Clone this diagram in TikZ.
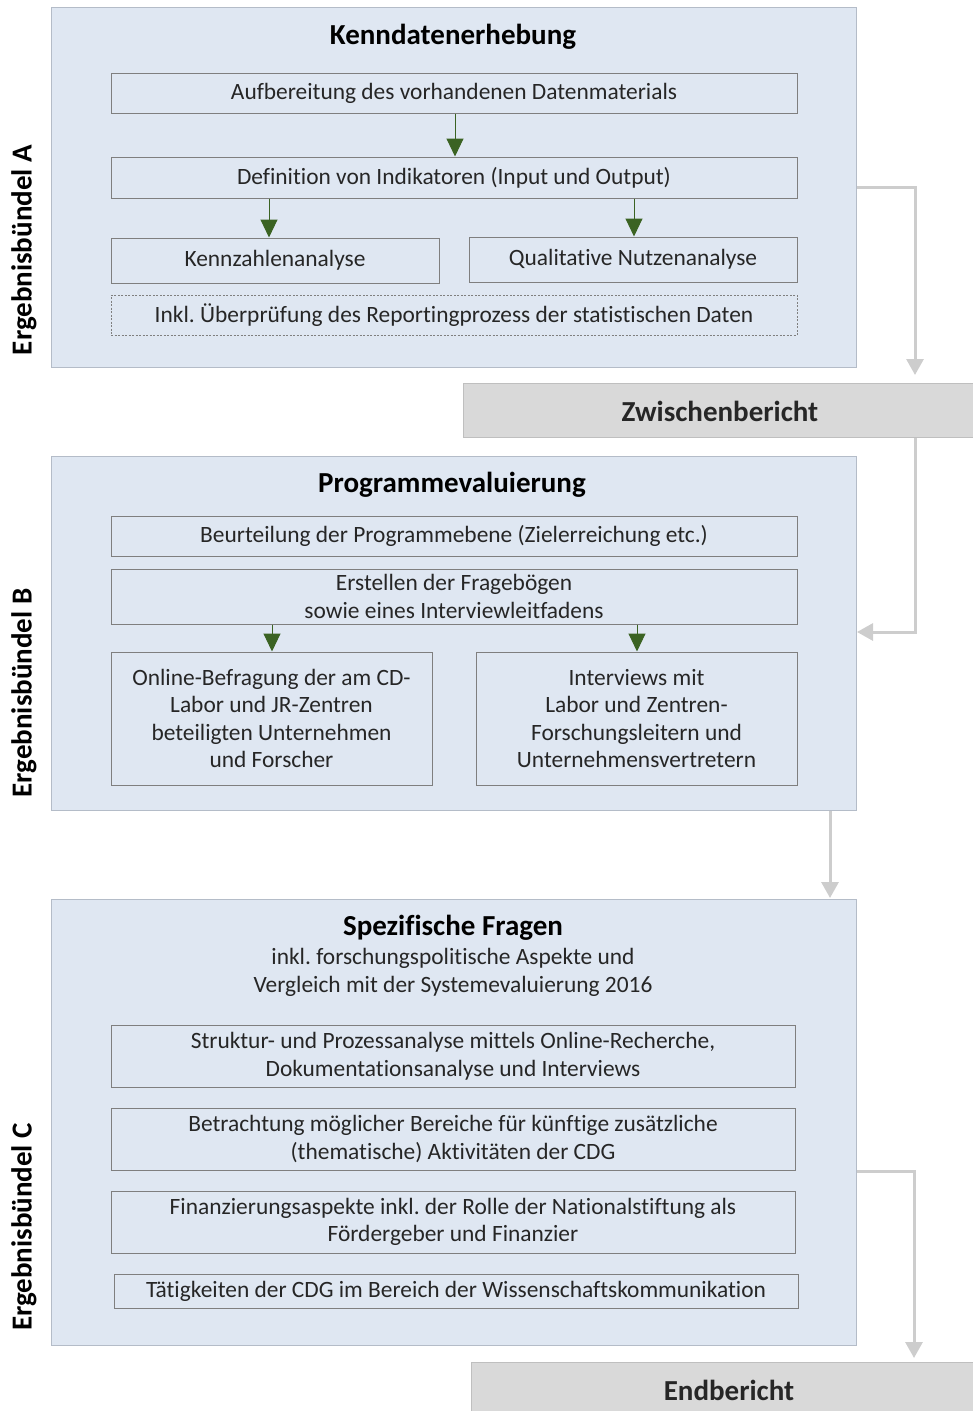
\documentclass[tikz,border=0pt]{standalone}
\usepackage{fontspec}
\setmainfont{Carlito}[Ligatures=NoCommon]
\usetikzlibrary{arrows.meta,calc}
\definecolor{panelfill}{HTML}{DFE7F2}
\definecolor{panelline}{HTML}{B4BCC8}
\definecolor{boxline}{HTML}{7F7F7F}
\definecolor{txt}{HTML}{262626}
\definecolor{greenarrow}{HTML}{3B6323}
\definecolor{reportfill}{HTML}{D9D9D9}
\definecolor{reportline}{HTML}{BFBFBF}
\definecolor{connline}{HTML}{CDCDCD}
\frenchspacing
\tikzset{
  panel/.style={draw=panelline, fill=panelfill, line width=1pt, anchor=north west, inner sep=0pt},
  stepbox/.style={draw=boxline, line width=1pt, text=txt, align=center, inner sep=0pt,
    font=\fontsize{23.4}{27.6}\selectfont},
  dashbox/.style={stepbox, dashed, dash pattern=on 2pt off 1.5pt},
  ptitle/.style={text=black, font=\bfseries\fontsize{29}{32}\selectfont},
  psub/.style={text=txt, align=center, font=\fontsize{23.4}{28}\selectfont},
  sidelabel/.style={rotate=90, text=black, font=\bfseries\fontsize{29}{32}\selectfont},
  report/.style={draw=reportline, fill=reportfill, line width=1pt, anchor=north west, inner sep=0pt},
  reporttext/.style={text=txt, font=\bfseries\fontsize{29}{32}\selectfont},
  garrow/.style={draw=greenarrow, line width=1pt, -{Triangle[width=17pt,length=18pt]}, fill=greenarrow},
  conn/.style={draw=connline, line width=3pt, -{Triangle[width=17pt,length=16pt]}}
}
\begin{document}
\begin{tikzpicture}[x=1pt,y=-1pt]
\useasboundingbox (0,0) rectangle (973,1411);

% ---------- Ergebnisbündel A ----------
\node[panel, minimum width=805pt, minimum height=360pt] (pA) at (51,7) {};
\node[ptitle] (tA) at (453,37) {Kenndatenerhebung};
\node[stepbox, minimum width=686pt, minimum height=40pt] (a1) at (454,93)
  {Aufbereitung des vorhandenen Datenmaterials};
\node[stepbox, minimum width=686pt, minimum height=41pt] (a2) at (454,177.5)
  {Definition von Indikatoren (Input und Output)};
\node[stepbox, minimum width=328pt, minimum height=45pt] (a3) at (275,260.5)
  {Kennzahlenanalyse};
\node[stepbox, minimum width=328pt, minimum height=45pt] (a4) at (633,259.5)
  {Qualitative Nutzenanalyse};
\node[dashbox, minimum width=686pt, minimum height=40pt] (a5) at (454,315)
  {Inkl. Überprüfung des Reportingprozess der statistischen Daten};
\node[sidelabel] (lA) at (24,250) {Ergebnisbündel A};

\draw[garrow] (a1.south -| 455,0) -- (a2.north -| 455,0);
\draw[garrow] (a2.south -| 269,0) -- (a3.north -| 269,0);
\draw[garrow] (a2.south -| 634,0) -- (a4.north -| 634,0);

% ---------- Zwischenbericht ----------
\node[report, minimum width=510pt, minimum height=54pt] (zw) at (463,383) {};
\node[reporttext] (zwt) at (720,411) {Zwischenbericht};

% ---------- Ergebnisbündel B ----------
\node[panel, minimum width=805pt, minimum height=354pt] (pB) at (51,456) {};
\node[ptitle] (tB) at (452,485) {Programmevaluierung};
\node[stepbox, minimum width=686pt, minimum height=40pt] (b1) at (454,536)
  {Beurteilung der Programmebene (Zielerreichung etc.)};
\node[stepbox, minimum width=686pt, minimum height=55pt] (b2) at (454,596.5)
  {Erstellen der Fragebögen\\sowie eines Interviewleitfadens};
\node[stepbox, minimum width=321pt, minimum height=133pt] (b3) at (271.5,718.5)
  {Online-Befragung der am CD-\\Labor und JR-Zentren\\beteiligten Unternehmen\\und Forscher};
\node[stepbox, minimum width=321pt, minimum height=133pt] (b4) at (636.5,718.5)
  {Interviews mit\\Labor und Zentren-\\Forschungsleitern und\\Unternehmensvertretern};
\node[sidelabel] (lB) at (24,693) {Ergebnisbündel B};

\draw[garrow] (b2.south -| 272,0) -- (b3.north -| 272,0);
\draw[garrow] (b2.south -| 637,0) -- (b4.north -| 637,0);

% ---------- Ergebnisbündel C ----------
\node[panel, minimum width=805pt, minimum height=446pt] (pC) at (51,899) {};
\node[ptitle] (tC) at (453,928) {Spezifische Fragen};
\node[psub] (sC) at (453,972) {inkl. forschungspolitische Aspekte und\\Vergleich mit der Systemevaluierung 2016};
\node[stepbox, minimum width=684pt, minimum height=62pt] (c1) at (453,1056)
  {Struktur- und Prozessanalyse mittels Online-Recherche,\\Dokumentationsanalyse und Interviews};
\node[stepbox, minimum width=684pt, minimum height=62pt] (c2) at (453,1139)
  {Betrachtung möglicher Bereiche für künftige zusätzliche\\(thematische) Aktivitäten der CDG};
\node[stepbox, minimum width=684pt, minimum height=62pt] (c3) at (453,1222)
  {Finanzierungsaspekte inkl. der Rolle der Nationalstiftung als\\Fördergeber und Finanzier};
\node[stepbox, minimum width=684pt, minimum height=34pt] (c4) at (456,1291)
  {Tätigkeiten der CDG im Bereich der Wissenschaftskommunikation};
\node[sidelabel] (lC) at (24,1227) {Ergebnisbündel C};

% ---------- Endbericht ----------
\node[report, minimum width=502pt, minimum height=60pt] (eb) at (471,1362) {};
\node[reporttext] (ebt) at (729,1390) {Endbericht};

% ---------- report flow ----------
\coordinate (zwIn) at ([xshift=-59pt, yshift=8pt]zw.north east);
\draw[conn] ([yshift=-180pt]pA.north east) -| (zwIn);
\coordinate (zwOut) at ([xshift=-59pt]zw.south east);
\coordinate (bIn) at ([yshift=-176pt]pB.north east);
\draw[conn] (zwOut) |- (bIn);
\coordinate (cIn) at ([xshift=-27pt, yshift=1pt]pC.north east);
\draw[conn] (pB.south -| cIn) -- (cIn);
\coordinate (ebIn) at ([xshift=-60pt, yshift=4pt]eb.north east);
\draw[conn] ([yshift=-272pt]pC.north east) -| (ebIn);
\end{tikzpicture}
\end{document}
